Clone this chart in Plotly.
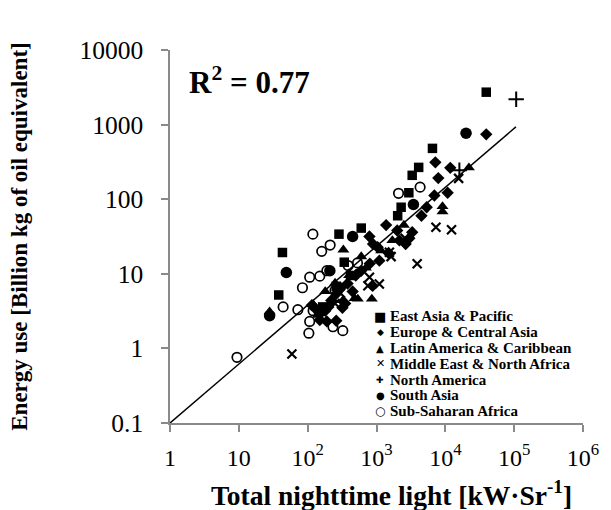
import numpy as np
import plotly.graph_objects as go

# Total nighttime light [kW·Sr^-1] vs energy use [billion kg oil equivalent], by region
eap_light = [39300, 6500, 4100, 3300, 2950, 2280, 2030, 600, 285, 340, 43, 38, 165, 260, 420]
eap_energy = [2720, 480, 267, 209, 122, 78, 60, 41, 34, 14.3, 19.3, 5.2, 3.6, 6.8, 9.5]

eca_light = [39300, 7160, 11800, 7900, 10800, 6930, 5360, 1380, 3300, 2650, 3000, 2150, 790, 890,
             1040, 800, 1100, 880, 500, 450, 380, 300, 260, 220, 200, 180, 150, 130, 115, 190,
             260, 150, 320, 600, 1500, 2000, 4500, 350]
eca_energy = [740, 312, 263, 192, 122, 112, 78, 45, 36, 25, 30, 28, 31.6, 25,
              22.7, 13.7, 15, 6.9, 9.5, 5.8, 7.4, 6.5, 5.4, 4.4, 3.6, 3.2, 2.9, 3.4, 3.8, 2.3,
              2.35, 2.4, 3.5, 11, 19, 38, 60, 4.0]

lac_light = [22000, 9100, 9100, 535, 855, 1170, 330, 324, 28, 480, 2500, 700, 400, 250, 180, 120,
             140, 600, 1700]
lac_energy = [265, 80, 68, 4.6, 4.6, 20.4, 21, 4.4, 3.1, 4.7, 45, 12, 9.5, 7.5, 5.8, 3.9,
              2.8, 17, 28]

mena_light = [15600, 7300, 12300, 3900, 1540, 1630, 1100, 790, 750, 59, 2600, 450, 300, 250]
mena_energy = [190, 42, 39, 13.6, 19.5, 17, 7.3, 9, 6.9, 0.84, 30, 10, 5.5, 4]

na_light = [107000, 16000]
na_energy = [2190, 244]

sa_light = [20000, 3440, 450, 49, 28, 210]
sa_energy = [766, 85, 31.6, 10.4, 2.75, 11]

ssa_light = [9.4, 44, 72, 84, 119, 160, 212, 107, 150, 190, 107, 104, 233, 324, 388, 2090, 4300,
             530, 250, 120]
ssa_energy = [0.76, 3.6, 3.3, 6.5, 34, 20, 24.3, 9, 9.3, 11, 2.3, 1.6, 1.95, 1.73, 12.9, 120, 145,
              14, 6, 3.2]

# power-law trend line: energy = a * light^b
trend_a, trend_b = 0.1, 0.79
trend_light = np.array([1.0, 1.06e5])

x_tickvals = [1, 10, 100, 1e3, 1e4, 1e5, 1e6]
x_ticktext = ["1", "10", "10<sup>2</sup>", "10<sup>3</sup>", "10<sup>4</sup>", "10<sup>5</sup>", "10<sup>6</sup>"]
y_tickvals = [0.1, 1, 10, 100, 1000, 10000]
y_ticktext = ["0.1", "1", "10", "100", "1000", "10000"]

region_names = ["East Asia & Pacific", "Europe & Central Asia", "Latin America & Caribbean",
                "Middle East & North Africa", "North America", "South Asia", "Sub-Saharan Africa"]

SERIF = "Liberation Serif"
AXIS_GRAY = "#8a8a8a"

series = [
    (eap_light, eap_energy, dict(symbol="square", size=9.5, color="black", line=dict(width=0))),
    (eca_light, eca_energy, dict(symbol="diamond", size=9.5, color="black", line=dict(width=0))),
    (lac_light, lac_energy, dict(symbol="triangle-up", size=10.5, color="black", line=dict(width=0))),
    (mena_light, mena_energy, dict(symbol="x-thin", size=9, color="black", line=dict(width=2.2, color="black"))),
    (na_light, na_energy, dict(symbol="cross-thin", size=11, color="black", line=dict(width=2, color="black"))),
    (sa_light, sa_energy, dict(symbol="circle", size=11.5, color="black", line=dict(width=0))),
    (ssa_light, ssa_energy, dict(symbol="circle-open", size=9.5, color="black", line=dict(width=1.7))),
]

fig = go.Figure()
for name, (xs, ys, mk) in zip(region_names, series):
    fig.add_trace(go.Scatter(x=xs, y=ys, mode="markers", name=name, marker=mk, showlegend=False))

fig.add_trace(go.Scatter(x=trend_light, y=trend_a * trend_light ** trend_b, mode="lines",
                         line=dict(color="black", width=1.5), showlegend=False))

axis_common = dict(type="log", showgrid=False, zeroline=False, showline=True, linecolor=AXIS_GRAY,
                   linewidth=1.5, ticks="outside", ticklen=7, tickwidth=1.5, tickcolor=AXIS_GRAY)

fig.update_xaxes(range=[0, 6], tickvals=x_tickvals, ticktext=x_ticktext, ticklabelstandoff=5,
                 tickfont=dict(family=SERIF, size=24, color="black"), **axis_common)
fig.update_yaxes(range=[-1, 4], tickvals=y_tickvals, ticktext=y_ticktext, ticklabelstandoff=13,
                 tickfont=dict(family=SERIF, size=25.5, color="black"), **axis_common)

annotations = [
    dict(text="<b>R<sup>2</sup> = 0.77</b>", x=0.04, y=0.917, xref="paper", yref="paper",
         xanchor="left", yanchor="middle", showarrow=False, font=dict(family=SERIF, size=31, color="black")),
    dict(text="<b>Total nighttime light [kW·Sr<sup>-1</sup>]</b>", x=0.5375, y=-0.188, xref="paper",
         yref="paper", xanchor="center", yanchor="middle", showarrow=False,
         font=dict(family=SERIF, size=27.5, color="black")),
    dict(text="<b>Energy use [Billion kg of oil equivalent]</b>", x=-0.365, y=0.5, xref="paper",
         yref="paper", xanchor="center", yanchor="middle", textangle=-90, showarrow=False,
         font=dict(family=SERIF, size=23, color="black")),
]

# legend rows drawn as text: glyph + region name
legend_glyphs = [("■", 13), ("◆", 9), ("▲", 10), ("✕", 11), ("✚", 9), ("●", 10), ("○", 12)]
row_px = [316, 332, 348, 363.5, 379.5, 395, 411]
for (glyph, gsize), name, py in zip(legend_glyphs, region_names, row_px):
    yp = (423 - py) / 373
    annotations.append(dict(text=glyph, x=(380 - 170) / 413, y=yp, xref="paper", yref="paper",
                            xanchor="center", yanchor="middle", showarrow=False,
                            font=dict(family="DejaVu Sans", size=gsize, color="black")))
    annotations.append(dict(text=name, x=(388 - 170) / 413, y=yp,
                            xref="paper", yref="paper", xanchor="left", yanchor="middle", showarrow=False,
                            font=dict(family=SERIF, size=15, color="black", weight="bold")))

fig.update_layout(width=611, height=510, margin=dict(l=170, r=28, t=50, b=87),
                  plot_bgcolor="white", paper_bgcolor="white", showlegend=False,
                  annotations=annotations, font=dict(family=SERIF, color="black"))

fig.write_html("out.html")
